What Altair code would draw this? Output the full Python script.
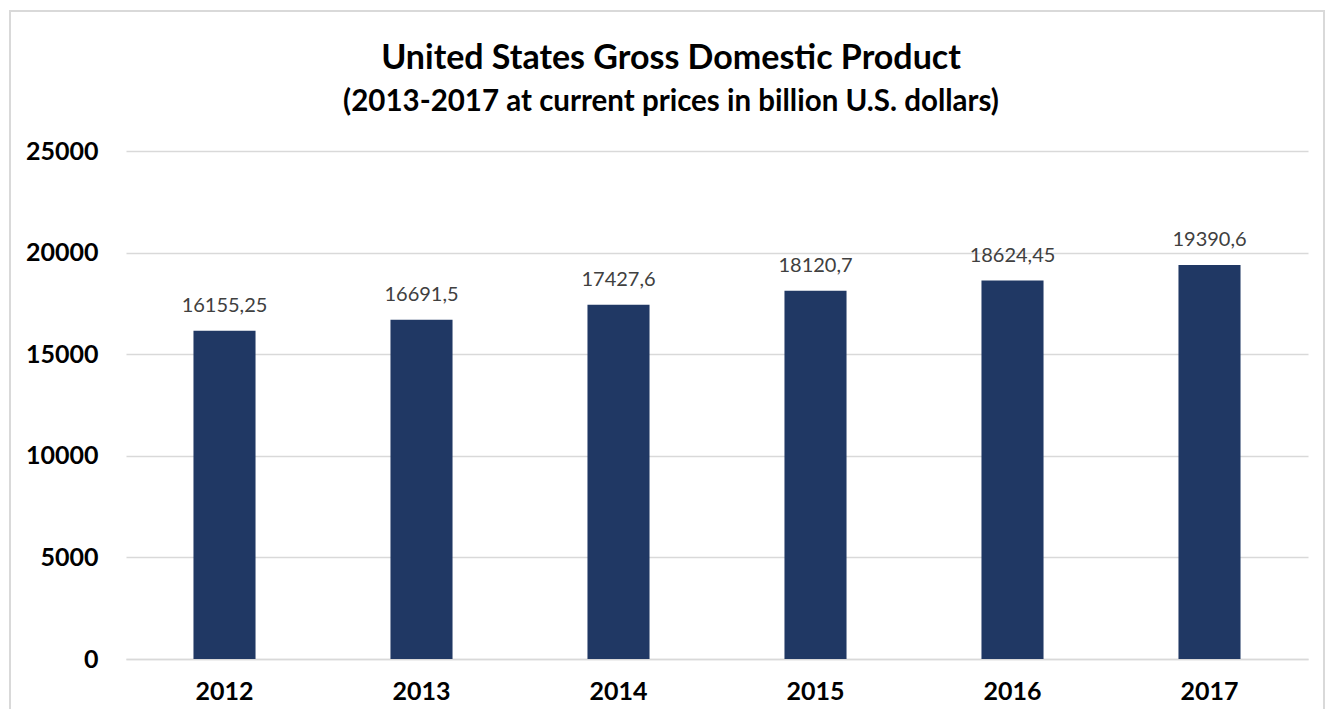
import altair as alt
import pandas as pd

years = ["2012", "2013", "2014", "2015", "2016", "2017"]
gdp = [16155.25, 16691.5, 17427.6, 18120.7, 18624.45, 19390.6]
labels = ["16155,25", "16691,5", "17427,6", "18120,7", "18624,45", "19390,6"]
y_ticks = [0, 5000, 10000, 15000, 20000, 25000]
title_text = "United States Gross Domestic Product"
subtitle_text = "(2013-2017 at current prices in billion U.S. dollars)"

df = pd.DataFrame({"year": years, "gdp": gdp, "label": labels})

W, H = 1182, 508
FONT = "Lato"

x = alt.X("year:N", sort=years, title=None,
          scale=alt.Scale(paddingInner=0.685, paddingOuter=0.3425),
          axis=alt.Axis(labelAngle=0, labelFontSize=25, labelFontWeight="bold",
                        labelColor="black", labelPadding=20, ticks=False,
                        domain=True, domainColor="#d9d9d9", domainWidth=1.5,
                        labelFont=FONT))
y = alt.Y("gdp:Q", title=None,
          scale=alt.Scale(domain=[0, 25000], nice=False),
          axis=alt.Axis(values=y_ticks, labelFontSize=25, labelFontWeight="bold",
                        labelColor="black", labelPadding=28, ticks=False, domain=False,
                        gridColor="#d9d9d9", gridWidth=1.5, labelFont=FONT, format="d"))

base = alt.Chart(df)
one = base.transform_filter("datum.year == '2012'")

border = one.mark_rect(fill=None, stroke="#d9d9d9", strokeWidth=2).encode(
    x=alt.value(-116), x2=alt.value(1198), y=alt.value(-140), y2=alt.value(620)
)
title = one.mark_text(baseline="middle", align="center", fontSize=34,
                      fontWeight="bold", color="black", font=FONT).encode(
    x=alt.value(545), y=alt.value(-92), text=alt.value(title_text))
subtitle = one.mark_text(baseline="middle", align="center", fontSize=29.5,
                         fontWeight="bold", color="black", font=FONT).encode(
    x=alt.value(545), y=alt.value(-49), text=alt.value(subtitle_text))

bars = base.mark_bar(color="#203864").encode(x=x, y=y)
text = base.mark_text(baseline="alphabetic", dy=-19, fontSize=20, color="#404040",
                      font=FONT).encode(x=alt.X("year:N", sort=years),
                                        y="gdp:Q", text="label:N")

chart = alt.layer(border, bars, text, title, subtitle).properties(
    width=W, height=H,
    autosize=alt.AutoSizeParams(type="none"),
    padding={"left": 118, "top": 143, "right": 17, "bottom": 50},
).configure_view(stroke=None)

chart.save("out.html", embed_options={"renderer": "svg", "actions": False})
